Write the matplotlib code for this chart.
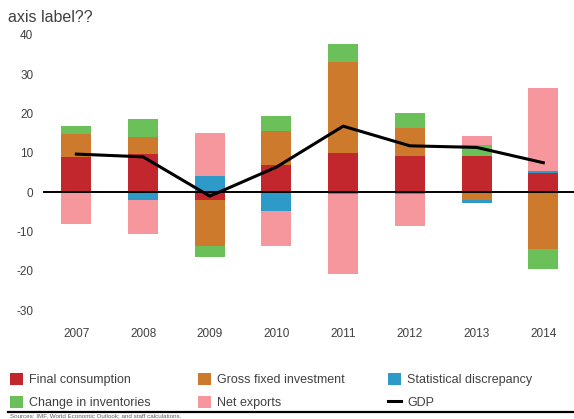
import matplotlib
matplotlib.use("Agg")
import matplotlib.pyplot as plt
from matplotlib.patches import Patch
from matplotlib.lines import Line2D
import numpy as np

plt.rcParams['font.family'] = ['Liberation Sans', 'DejaVu Sans']
plt.rcParams['axes.unicode_minus'] = False

# values (contributions, percentage points)
years = ["2007", "2008", "2009", "2010", "2011", "2012", "2013", "2014"]
final_consumption = [9.0, 9.7, -1.9, 6.8, 9.9, 9.2, 9.2, 4.8]
gross_fixed_investment = [5.9, 4.4, -11.8, 8.7, 23.3, 7.2, -1.9, -14.4]
statistical_discrepancy = [0.0, -2.0, 4.0, -4.9, -0.4, -0.4, -0.8, 0.5]
change_in_inventories = [2.0, 4.4, -2.8, 3.8, 4.4, 3.8, 2.8, -5.1]
net_exports = [-8.0, -8.7, 11.0, -8.7, -20.4, -8.1, 2.3, 21.3]
gdp = [9.7, 9.0, -1.0, 6.4, 16.8, 11.8, 11.4, 7.5]
y_ticks = [40, 30, 20, 10, 0, -10, -20, -30]

series = [
    ("Final consumption", final_consumption, "#C1272D"),
    ("Gross fixed investment", gross_fixed_investment, "#CE7A2D"),
    ("Statistical discrepancy", statistical_discrepancy, "#2E9AC8"),
    ("Change in inventories", change_in_inventories, "#6CC05A"),
    ("Net exports", net_exports, "#F6979D"),
]

fig = plt.figure(figsize=(5.74, 4.19), dpi=100)
ax = fig.add_axes([43 / 574, 97 / 419, 1 - 43 / 574, 291 / 419])

x = np.arange(len(years))
pos_bottom = np.zeros(len(years))
neg_bottom = np.zeros(len(years))
for name, vals, col in series:
    v = np.array(vals)
    bottom = np.where(v >= 0, pos_bottom, neg_bottom)
    ax.bar(x, v, width=0.45, bottom=bottom, color=col, zorder=2)
    pos_bottom += np.where(v >= 0, v, 0)
    neg_bottom += np.where(v < 0, v, 0)

ax.axhline(0, color="black", lw=1.4, zorder=3)
ax.plot(x, gdp, color="black", lw=2.2, zorder=4)

ax.set_xlim(-0.5, 7.46)
ax.set_ylim(-33, 41)
ax.set_xticks(x)
ax.set_xticklabels(years)
ax.set_yticks(y_ticks)
ax.tick_params(length=0, labelsize=8.5, labelcolor="#404040")
ax.tick_params(axis="y", pad=7)
ax.tick_params(axis="x", pad=4)
for s in ax.spines.values():
    s.set_visible(False)

fig.text(8 / 574, 1 - 17 / 419, "axis label??", fontsize=11.5, color="#404040", va="center")

# legend, three fixed columns
cols = [
    [("Final consumption", "#C1272D"), ("Change in inventories", "#6CC05A")],
    [("Gross fixed investment", "#CE7A2D"), ("Net exports", "#F6979D")],
    [("Statistical discrepancy", "#2E9AC8"), ("GDP", None)],
]
col_x = [10, 198, 388]
for cx, entries in zip(col_x, cols):
    handles = []
    for label, col in entries:
        if col is None:
            handles.append(Line2D([], [], color="black", lw=2.2, label=label))
        else:
            handles.append(Patch(facecolor=col, label=label))
    fig.legend(handles=handles, loc="upper left",
               bbox_to_anchor=(cx / 574, 1 - 373 / 419),
               frameon=False, fontsize=9, borderpad=0, borderaxespad=0,
               handlelength=1.05, handleheight=1.05, handletextpad=0.5,
               labelspacing=0.8, labelcolor="#404040")

fig.add_artist(Line2D([8 / 574, 1], [1 - 412 / 419, 1 - 412 / 419],
                      color="black", lw=1.6, transform=fig.transFigure))
fig.text(10 / 574, 0.5 / 419, "Sources: IMF, World Economic Outlook; and staff calculations.",
         fontsize=4.5, color="#606060", va="bottom")

fig.savefig("out.png", dpi=100)
